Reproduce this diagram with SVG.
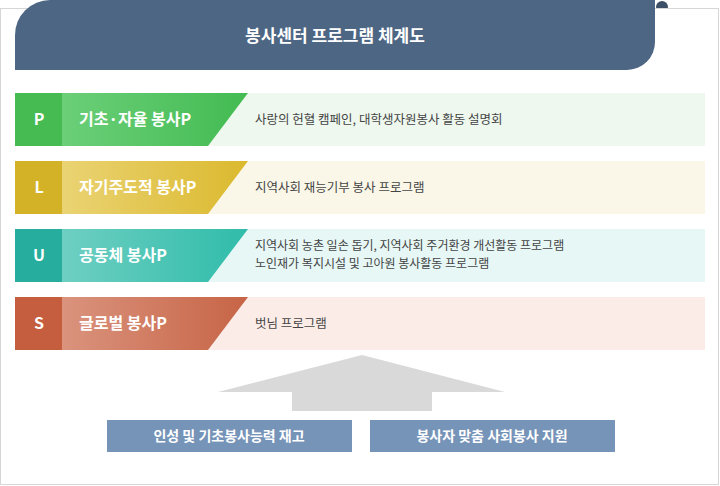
<svg xmlns="http://www.w3.org/2000/svg" width="720" height="486" viewBox="0 0 720 486">
<defs>
<linearGradient id="gP"><stop offset="0" stop-color="#6bcf78"/><stop offset="1" stop-color="#43bb52"/></linearGradient>
<linearGradient id="gL"><stop offset="0" stop-color="#ead373"/><stop offset="1" stop-color="#dbb92e"/></linearGradient>
<linearGradient id="gU"><stop offset="0" stop-color="#6ecfc2"/><stop offset="1" stop-color="#30bcaa"/></linearGradient>
<linearGradient id="gS"><stop offset="0" stop-color="#da937d"/><stop offset="1" stop-color="#c76446"/></linearGradient>
</defs>
<style>
text{font-family:"Noto Sans CJK KR","Noto Sans",sans-serif}
.l{fill:#fff;font-size:16px;font-weight:bold;text-anchor:middle}
.n{fill:#fff;font-size:16px;font-weight:bold}
.d{fill:#444;font-size:12.5px}
.d2{fill:#444;font-size:12px}
.b{fill:#7693b8}
.bt{fill:#fff;font-size:14px;font-weight:bold;text-anchor:middle}
</style>
<circle cx="662" cy="7" r="6" fill="#3d4f66"/>
<rect x="0.5" y="8.5" width="718" height="476" fill="none" stroke="#d6d6d6"/>
<rect x="1" y="9" width="717" height="475" fill="#fff"/>
<g id="title">
<path d="M15 70 V35 A35 35 0 0 1 50 0 H655 V42 A28 28 0 0 1 627 70 Z" fill="#4d6683"/>
<text x="335" y="42" fill="#fff" font-size="17" font-weight="bold" text-anchor="middle" font-family="Noto Sans CJK KR,sans-serif">봉사센터 프로그램 체계도</text>
</g>
<g id="rowP">
<rect x="15" y="93" width="690" height="53" fill="#eef8ef"/>
<rect x="15" y="93" width="47" height="53" fill="#45bb52"/>
<path d="M62 93 H248 L208 146 H62 Z" fill="url(#gP)"/>
<text class="l" x="39" y="125">P</text><text class="n" x="79" y="125">기초·자율 봉사P</text>
<text class="d" x="255" y="124">사랑의 헌혈 캠페인, 대학생자원봉사 활동 설명회</text>
</g>
<g id="rowL">
<rect x="15" y="161" width="690" height="53" fill="#faf7e8"/>
<rect x="15" y="161" width="47" height="53" fill="#d4b227"/>
<path d="M62 161 H248 L208 214 H62 Z" fill="url(#gL)"/>
<text class="l" x="39" y="193">L</text><text class="n" x="79" y="193">자기주도적 봉사P</text>
<text class="d" x="255" y="192">지역사회 재능기부 봉사 프로그램</text>
</g>
<g id="rowU">
<rect x="15" y="229" width="690" height="53" fill="#e6f7f5"/>
<rect x="15" y="229" width="47" height="53" fill="#27ad9d"/>
<path d="M62 229 H248 L208 282 H62 Z" fill="url(#gU)"/>
<text class="l" x="39" y="261">U</text><text class="n" x="79" y="261">공동체 봉사P</text>
<text class="d2" x="255" y="250">지역사회 농촌 일손 돕기, 지역사회 주거환경 개선활동 프로그램</text>
<text class="d2" x="255" y="268">노인재가 복지시설 및 고아원 봉사활동 프로그램</text>
</g>
<g id="rowS">
<rect x="15" y="297" width="690" height="53" fill="#fbece8"/>
<rect x="15" y="297" width="47" height="53" fill="#c45e3e"/>
<path d="M62 297 H248 L208 350 H62 Z" fill="url(#gS)"/>
<text class="l" x="39" y="329">S</text><text class="n" x="79" y="329">글로벌 봉사P</text>
<text class="d" x="255" y="328">벗님 프로그램</text>
</g>
<g id="connectors">
<path d="M362 355 L505 392 H432 V411 H292 V392 H218 Z" fill="#d9d9d9"/>
</g>
<g id="btn1"><rect class="b" x="107" y="420" width="245" height="32"/><text class="bt" x="229" y="441">인성 및 기초봉사능력 재고</text></g>
<g id="btn2"><rect class="b" x="370" y="420" width="245" height="32"/><text class="bt" x="492" y="441">봉사자 맞춤 사회봉사 지원</text></g>
</svg>
